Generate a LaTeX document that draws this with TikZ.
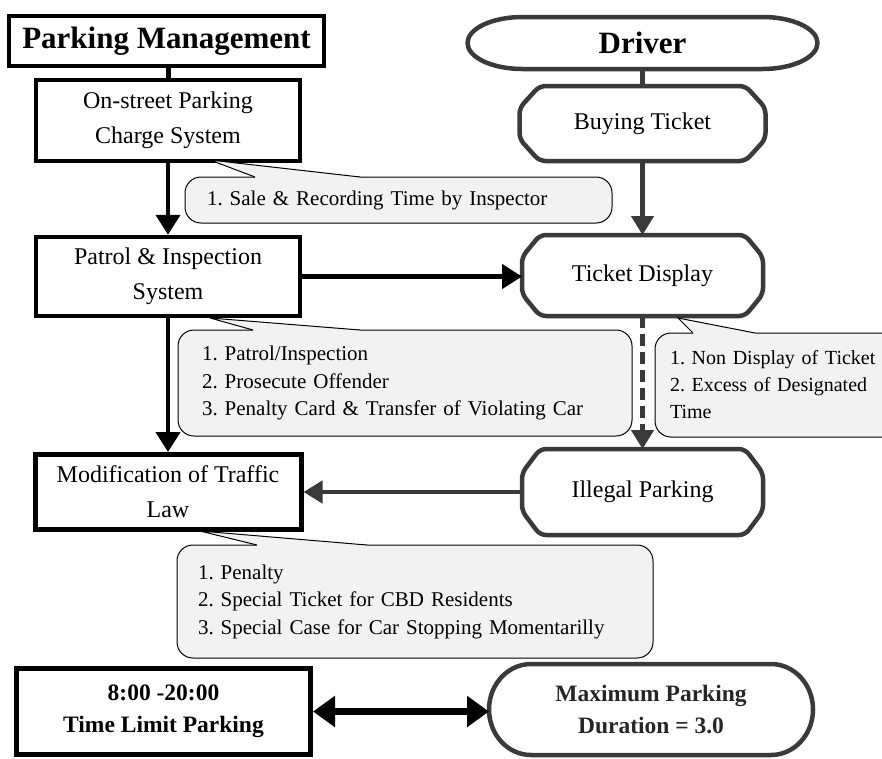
\documentclass[tikz,border=0pt]{standalone}
\usepackage{fontspec}
\setmainfont{Liberation Serif}
\usetikzlibrary{arrows.meta,calc}
\definecolor{calfill}{HTML}{F2F2F2}
\definecolor{dgray}{HTML}{3A3A3A}
\frenchspacing
\newcommand\octopath[3]{% node, chamfer x, chamfer y
  \draw[rline, rounded corners=6pt] ([xshift=#2]#1.north west) -- ([xshift=-#2]#1.north east) -- ([yshift=-#3]#1.north east) -- ([yshift=#3]#1.south east) -- ([xshift=-#2]#1.south east) -- ([xshift=#2]#1.south west) -- ([yshift=#3]#1.south west) -- ([yshift=-#3]#1.north west) -- cycle;}
\newcommand\capsulepath[3]{% node, x radius, y radius
  \draw[rline] ([xshift=#2]#1.north west) -- ([xshift=-#2]#1.north east) arc[start angle=90,end angle=-90,x radius=#2,y radius=#3] -- ([xshift=#2]#1.south west) arc[start angle=270,end angle=90,x radius=#2,y radius=#3] -- cycle;}
\newcommand\calloutptr[3]{%
  \fill[calfill] (#1) -- (#2) -- (#3) -- ([yshift=-1.6pt]#3) -- ([yshift=-1.6pt]#1) -- cycle;
  \draw[line width=1pt, line join=miter] (#1) -- (#2) -- (#3);}
\begin{document}
\begin{tikzpicture}[x=1pt,y=-1pt,
  lbox/.style={draw=black, line width=4.5pt, rectangle, align=center, inner sep=0pt,
    font=\fontsize{24}{35}\selectfont},
  rbox/.style={draw=none, rectangle, align=center, inner sep=0pt, outer sep=0pt,
    font=\fontsize{24}{35}\selectfont},
  rline/.style={draw=dgray, line width=4.5pt, line join=round},
  kline/.style={draw=black, line width=5pt},
  karrow/.style={draw=black, line width=4.5pt, -{Triangle[width=24pt,length=20pt]}},
  garrow/.style={draw=dgray, line width=4.5pt, -{Triangle[width=22pt,length=19pt]}},
  dblarrow/.style={draw=black, line width=7pt, {Triangle[width=30pt,length=22pt]}-{Triangle[width=30pt,length=22pt]}},
  callout/.style={draw=black, line width=1pt, fill=calfill, rounded corners=16pt, rectangle,
    align=left, inner ysep=0pt, font=\fontsize{21}{27.5}\selectfont},
  boldbig/.style={font=\bfseries\fontsize{31}{37}\selectfont},
  boldmid/.style={font=\bfseries\fontsize{23.5}{32}\selectfont}
]
\useasboundingbox (0,0) rectangle (882,758);
\clip (0,0) rectangle (882,758);

% left column
\node[lbox, boldbig, minimum width=315pt, minimum height=50pt] (pm) at (166.5,41) {Parking Management};
\node[lbox, line width=3.5pt, minimum width=264pt, minimum height=81pt] (ons) at (168,120.5) {On-street Parking\\Charge System};
\node[lbox, minimum width=264pt, minimum height=79pt] (pat) at (168,276.5) {Patrol \& Inspection\\System};
\node[lbox, line width=5pt, minimum width=266pt, minimum height=75pt] (mod) at (168,492) {Modification of Traffic\\Law};
\node[lbox, boldmid, line width=5pt, minimum width=294pt, minimum height=86pt] (tl) at (163.5,711.5) {8:00 -20:00\\Time Limit Parking};

% right column
\node[rbox, boldbig, minimum width=350pt, minimum height=52pt] (drv) at (642.5,43) {Driver};
\capsulepath{drv}{55pt}{26pt}
\node[rbox, minimum width=246pt, minimum height=75pt] (buy) at (642.5,123.5) {Buying Ticket};
\octopath{buy}{20pt}{22pt}
\node[rbox, minimum width=241pt, minimum height=81pt] (tic) at (642.5,275.5) {Ticket Display};
\octopath{tic}{18pt}{22pt}
\node[rbox, minimum width=241pt, minimum height=86pt] (ill) at (642.5,492) {Illegal Parking};
\octopath{ill}{18pt}{24pt}
\node[rbox, boldmid, text=black!85, minimum width=324pt, minimum height=91pt] (maxp) at (651,709.5) {Maximum Parking\\Duration = 3.0};
\capsulepath{maxp}{42pt}{45.5pt}

% connectors
\draw[kline] (ons.north |- pm.south) -- (ons.north);
\draw[karrow] (ons.south) -- (pat.north);
\draw[karrow] (pat.south) -- (pat.south |- mod.north);
\draw[karrow] (pat.east) -- (pat.east -| tic.west);
\draw[draw=dgray, line width=4.5pt] (drv.south) -- (buy.north);
\draw[garrow] (buy.south) -- (tic.north);
\draw[garrow, dash pattern=on 12pt off 6pt] (tic.south) -- (ill.north);
\draw[garrow] (ill.west) -- (ill.west -| mod.east);
\draw[dblarrow] (tl.east) -- (tl.east -| maxp.west);

% callouts
\node[callout, inner xsep=22pt, text width=383pt, minimum height=46pt] (c1) at (398.5,200)
  {1. Sale \& Recording Time by Inspector};
\calloutptr{255,177}{210,160}{360,177}
\node[callout, inner xsep=24pt, text width=406pt, minimum height=106pt] (c2) at (405,383)
  {1. Patrol/Inspection\\2. Prosecute Offender\\3. Penalty Card \& Transfer of Violating Car};
\calloutptr{253,330}{210,318}{360,330}
\node[callout, inner xsep=15pt, text width=220pt, minimum height=104pt, font=\fontsize{20}{27}\selectfont] (c3) at (780,385)
  {1. Non Display of Ticket\\2. Excess of Designated\\Time};
\calloutptr{693,333}{678,318}{755,333}
\node[callout, inner xsep=21pt, text width=434pt, minimum height=113pt] (c4) at (415,601.5)
  {1. Penalty\\2. Special Ticket for CBD Residents\\3. Special Case for Car Stopping Momentarilly};
\calloutptr{257,545}{200,531}{367,545}
\end{tikzpicture}
\end{document}
